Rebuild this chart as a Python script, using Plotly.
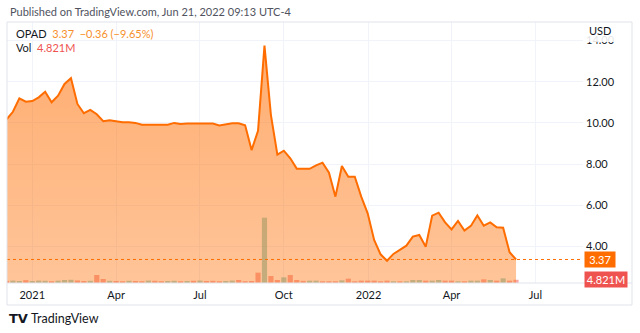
import pandas as pd
import plotly.graph_objects as go

# ---------------- data ----------------
week_start = "2020-12-07"
n_weeks = 80
dates = pd.date_range(week_start, periods=n_weeks, freq="7D")

close = [10.16, 10.54, 11.19, 11.03, 11.06, 11.24, 11.51, 11.00, 11.32, 11.89,
         12.17, 10.92, 10.47, 10.63, 10.42, 10.08, 10.13, 10.09, 10.03, 10.03,
         10.00, 9.91, 9.91, 9.91, 9.91, 9.91, 10.00, 9.95, 9.97, 9.97,
         9.97, 9.97, 9.97, 9.88, 9.93, 9.98, 9.98, 9.88, 8.68, 9.62,
         13.75, 10.38, 8.46, 8.65, 8.28, 7.78, 7.78, 7.77, 7.94, 8.07,
         7.58, 6.42, 7.91, 7.39, 7.39, 6.42, 5.61, 4.32, 3.62, 3.31,
         3.64, 3.86, 4.04, 4.48, 4.56, 3.99, 5.50, 5.64, 5.17, 4.83,
         5.24, 4.77, 5.00, 5.51, 5.01, 5.17, 4.93, 4.91, 3.72, 3.37]

volume_m = [3.2, 3.6, 3.0, 4.2, 3.0, 3.6, 3.3, 2.7, 3.5, 4.5,
            4.8, 3.8, 3.0, 3.3, 12.0, 6.0, 3.3, 3.0, 2.7, 3.3,
            3.0, 2.7, 3.6, 3.3, 2.7, 3.0, 3.3, 2.7, 3.0, 3.3,
            3.6, 3.0, 3.3, 2.7, 3.0, 3.6, 4.5, 2.7, 3.0, 15.5,
            98.0, 10.5, 4.5, 8.5, 12.0, 4.5, 3.2, 3.5, 3.5, 2.6,
            2.6, 2.6, 4.0, 6.5, 2.6, 3.5, 3.5, 3.5, 2.6, 3.5,
            2.6, 2.6, 2.6, 4.5, 4.5, 3.5, 3.5, 4.5, 3.5, 3.5,
            2.6, 2.6, 3.5, 3.5, 5.5, 4.5, 3.5, 7.0, 3.5, 4.821]

# 1 = up week (green volume), 0 = down week (red volume)
volume_up = [0, 1, 1, 0, 1, 1, 1, 0, 1, 1,
             1, 0, 0, 1, 0, 0, 1, 0, 0, 1,
             0, 0, 1, 0, 0, 1, 1, 0, 1, 0,
             1, 0, 0, 0, 1, 1, 0, 0, 0, 0,
             1, 0, 0, 1, 0, 0, 0, 1, 1, 0,
             0, 0, 1, 0, 0, 0, 0, 0, 0, 0,
             1, 0, 1, 1, 1, 0, 1, 1, 0, 0,
             1, 0, 1, 1, 0, 1, 0, 1, 0, 0]

tick_dates = ["2021-01-04", "2021-04-05", "2021-07-05", "2021-10-04",
              "2022-01-04", "2022-04-04", "2022-07-04"]
tick_text = ["2021", "Apr", "Jul", "Oct", "2022", "Apr", "Jul"]
price_ticks = [4, 6, 8, 10, 12, 14]

symbol = "OPAD"
last_price = close[-1]
change = -0.36
change_pct = -9.65
last_vol_label = "4.821M"
title_text = "Published on TradingView.com, Jun 21, 2022 09:13 UTC-4"

# ---------------- styles ----------------
ORANGE = "#ff6d00"
RED = "#ef5350"
TEXT = "#131722"
GRID = "#f0f3fa"
FRAME = "#e0e3eb"
FONT = "Lato"

W, H = 640, 333
PL, PR, PT, PB = 7, 583, 22, 283          # plot area in px
def px_x(x):
    return (x - PL) / (PR - PL)
def px_y(y):
    return (PB - y) / (PB - PT)

vol_colors = ["rgba(38,166,154,0.45)" if u else "rgba(239,83,80,0.5)" for u in volume_up]

fig = go.Figure()
fig.add_trace(go.Bar(x=dates, y=volume_m, marker=dict(color=vol_colors, line=dict(width=0)),
                     yaxis="y", showlegend=False, hoverinfo="skip"))
fig.add_trace(go.Scatter(x=dates, y=close, yaxis="y2", mode="lines",
                         line=dict(color=ORANGE, width=2),
                         fill="tozeroy",
                         fillgradient=dict(type="vertical", start=2.23, stop=13.8,
                                           colorscale=[[0, "rgba(255,109,0,0.40)"],
                                                       [1, "rgba(255,109,0,0.56)"]]),
                         showlegend=False, hoverinfo="skip"))

fig.update_layout(
    width=W, height=H,
    margin=dict(l=PL, r=W - PR, t=PT, b=H - PB, pad=0),
    paper_bgcolor="white", plot_bgcolor="white",
    font=dict(family=FONT, size=11, color=TEXT),
    bargap=0.2,
    xaxis=dict(type="date", range=["2020-12-07 14:00", "2022-08-24 16:00"],
               tickvals=tick_dates, ticktext=tick_text, showgrid=True, gridcolor=GRID,
               gridwidth=1, ticks="", showline=False, zeroline=False,
               tickfont=dict(size=11, color=TEXT), ticklabelstandoff=4),
    yaxis=dict(range=[0, 391.5], visible=False, showgrid=False, fixedrange=True),
    yaxis2=dict(overlaying="y", side="right", anchor="x",
                range=[2.228, 14.898], tickvals=price_ticks,
                ticktext=[f"{v:.2f}" for v in price_ticks],
                showgrid=True, gridcolor=GRID, zeroline=False, ticks="",
                showline=False, tickfont=dict(size=11, color=TEXT),
                ticklabelstandoff=2),
)

shapes = [
    # last price dotted line
    dict(type="line", xref="paper", yref="y2", x0=0, x1=1, y0=last_price, y1=last_price,
         line=dict(color=ORANGE, width=1, dash="dot"), layer="above"),
    # time axis separator
    dict(type="line", xref="paper", yref="paper", x0=0, x1=px_x(632), y0=0, y1=0,
         line=dict(color=FRAME, width=1), layer="above"),
    # fade box behind USD label
    dict(type="rect", xref="paper", yref="paper", x0=px_x(584), x1=px_x(631.5),
         y0=px_y(42), y1=px_y(22.5), fillcolor="white", opacity=0.88,
         line=dict(width=0), layer="above"),
    # outer frame
    dict(type="rect", xref="paper", yref="paper", x0=px_x(7), x1=px_x(632),
         y0=px_y(305), y1=px_y(22), line=dict(color=FRAME, width=1),
         fillcolor="rgba(0,0,0,0)", layer="above"),
]
fig.update_layout(shapes=shapes)

ann = [
    dict(text=title_text, x=px_x(8), y=px_y(12), xanchor="left", yanchor="middle",
         font=dict(size=11, color="#50535e")),
    dict(text=f"{symbol}  <span style='color:#f7902c'>{last_price:.2f}  "
              f"\u2212{abs(change):.2f} (\u2212{abs(change_pct):.2f}%)</span>",
         x=px_x(14), y=px_y(33.3), xanchor="left", yanchor="middle",
         font=dict(size=11, color=TEXT)),
    dict(text=f"Vol  <span style='color:{RED}'>{last_vol_label}</span>",
         x=px_x(14), y=px_y(47.3), xanchor="left", yanchor="middle",
         font=dict(size=11, color=TEXT)),
    dict(text="USD", x=px_x(599.5), y=px_y(30), xanchor="center", yanchor="middle",
         font=dict(size=11, color=TEXT)),
    dict(text=f"{last_price:.2f}", xref="paper", yref="y2", x=px_x(584), y=last_price,
         xanchor="left", yanchor="middle", bgcolor=ORANGE, width=28, height=13,
         borderpad=1, font=dict(size=11, color="white")),
    dict(text=last_vol_label, xref="paper", yref="y", x=px_x(584), y=volume_m[-1],
         xanchor="left", yanchor="middle", bgcolor=RED, width=40, height=13,
         borderpad=1, font=dict(size=11, color="white")),
    dict(text="<b>TV</b>", x=px_x(7), y=px_y(318), xanchor="left", yanchor="middle",
         font=dict(size=13, color=TEXT, family="DejaVu Sans")),
    dict(text="TradingView", x=px_x(29), y=px_y(318), xanchor="left", yanchor="middle",
         font=dict(size=12.5, color=TEXT)),
]
for a in ann:
    a.setdefault("xref", "paper")
    a.setdefault("yref", "paper")
    a["showarrow"] = False
fig.update_layout(annotations=ann)

fig.write_html("out.html")
